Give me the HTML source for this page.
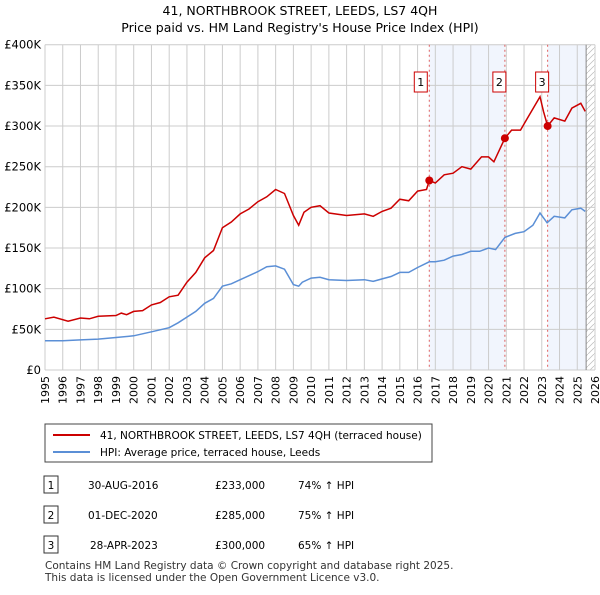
<!DOCTYPE html>
<html><head><meta charset="utf-8"><style>
body{margin:0;background:#fff;font-family:"Liberation Sans","DejaVu Sans",sans-serif;}
svg text{font-family:"DejaVu Sans","Liberation Sans",sans-serif;}
</style></head><body>
<svg id="c" width="600" height="590" xmlns="http://www.w3.org/2000/svg">
<text x="300" y="15" text-anchor="middle" font-size="12.5">41, NORTHBROOK STREET, LEEDS, LS7 4QH</text>
<text x="300" y="32" text-anchor="middle" font-size="12.5">Price paid vs. HM Land Registry's House Price Index (HPI)</text>
<defs><pattern id="h" width="6" height="6" patternUnits="userSpaceOnUse"><path d="M0 6L6 0" stroke="#bbb" stroke-width="0.7"/></pattern></defs>
<g id="plot"></g>
<g>
<rect x="45" y="424" width="387" height="38" fill="#fff" stroke="#444"/>
<line x1="53" y1="435" x2="90" y2="435" stroke="#cc0000" stroke-width="2"/>
<text x="100" y="439" font-size="10.5">41, NORTHBROOK STREET, LEEDS, LS7 4QH (terraced house)</text>
<line x1="53" y1="452" x2="90" y2="452" stroke="#5b8fd6" stroke-width="2"/>
<text x="100" y="456" font-size="10.5">HPI: Average price, terraced house, Leeds</text>
</g>
<g font-size="10.5">
<rect x="44" y="476" width="14" height="17" fill="#fff" stroke="#333"/><text x="51" y="489" text-anchor="middle">1</text>
<text x="88" y="489">30-AUG-2016</text><text x="215" y="489">£233,000</text><text x="298" y="489">74% ↑ HPI</text>
<rect x="44" y="506" width="14" height="17" fill="#fff" stroke="#333"/><text x="51" y="519" text-anchor="middle">2</text>
<text x="88" y="519">01-DEC-2020</text><text x="215" y="519">£285,000</text><text x="298" y="519">75% ↑ HPI</text>
<rect x="44" y="536" width="14" height="17" fill="#fff" stroke="#333"/><text x="51" y="549" text-anchor="middle">3</text>
<text x="90" y="549">28-APR-2023</text><text x="215" y="549">£300,000</text><text x="298" y="549">65% ↑ HPI</text>
</g>
<text x="45" y="569" font-size="10.5" fill="#333">Contains HM Land Registry data © Crown copyright and database right 2025.</text>
<text x="45" y="581" font-size="10.5" fill="#333">This data is licensed under the Open Government Licence v3.0.</text>
</svg>
<script>
const yTicks=[0,50000,100000,150000,200000,250000,300000,350000,400000];
const yLabels=["£0","£50K","£100K","£150K","£200K","£250K","£300K","£350K","£400K"];
const xYears=[1995,1996,1997,1998,1999,2000,2001,2002,2003,2004,2005,2006,2007,2008,2009,2010,2011,2012,2013,2014,2015,2016,2017,2018,2019,2020,2021,2022,2023,2024,2025,2026];
const hpiT=[1995,1996,1997,1998,1999,2000,2001,2002,2002.5,2003,2003.5,2004,2004.5,2005,2005.5,2006,2006.5,2007,2007.5,2008,2008.5,2009,2009.3,2009.5,2010,2010.5,2011,2012,2013,2013.5,2014,2014.5,2015,2015.5,2016,2016.66,2017,2017.5,2018,2018.5,2019,2019.5,2020,2020.4,2020.92,2021.5,2022,2022.5,2022.9,2023.3,2023.7,2024.3,2024.7,2025.2,2025.45];
const hpiV=[36000,36000,37000,38000,40000,42000,47000,52000,58000,65000,72000,82000,88000,103000,106000,111000,116000,121000,127000,128000,124000,105000,103000,108000,113000,114000,111000,110000,111000,109000,112000,115000,120000,120000,126000,133000,133000,135000,140000,142000,146000,146000,150000,148000,163000,168000,170000,178000,193000,181000,189000,187000,197000,199000,195000];
const priceT=[1995,1995.5,1996.3,1997,1997.5,1998,1999,1999.3,1999.6,2000,2000.5,2001,2001.5,2002,2002.5,2003,2003.5,2004,2004.5,2005,2005.5,2006,2006.5,2007,2007.5,2008,2008.5,2009,2009.3,2009.6,2010,2010.5,2011,2012,2013,2013.5,2014,2014.5,2015,2015.5,2016,2016.5,2016.66,2017,2017.5,2018,2018.5,2019,2019.6,2020,2020.3,2020.92,2021.3,2021.8,2022.2,2022.9,2023.1,2023.33,2023.7,2024.3,2024.7,2025.2,2025.45];
const priceV=[63000,65000,60000,64000,63000,66000,67000,70000,68000,72000,73000,80000,83000,90000,92000,108000,120000,138000,147000,175000,182000,192000,198000,207000,213000,222000,217000,190000,178000,194000,200000,202000,193000,190000,192000,189000,195000,199000,210000,208000,220000,222000,233000,230000,240000,242000,250000,247000,262000,262000,256000,285000,295000,295000,310000,336000,318000,300000,310000,306000,322000,328000,318000];
const saleT=[2016.66,2020.92,2023.33];
const saleV=[233000,285000,300000];
const saleLabels=["1","2","3"];
const X0=45,X1=595,Y0=370,Y1=44.7;
const x=t=>X0+(t-1995)/31*(X1-X0);
const y=v=>Y0-v/400000*(Y0-Y1);
const NS="http://www.w3.org/2000/svg";
const g=document.getElementById('plot');
function mk(tag,at){const e=document.createElementNS(NS,tag);for(const k in at)e.setAttribute(k,at[k]);g.appendChild(e);return e;}
// shading
let e=mk('rect',{x:x(saleT[0]),y:Y1,width:x(saleT[1])-x(saleT[0]),height:Y0-Y1,fill:'#eef3fc',opacity:0.8});


e=mk('rect',{x:x(saleT[2]),y:Y1,width:x(2025.5)-x(saleT[2]),height:Y0-Y1,fill:'#eef3fc',opacity:0.8});


e=mk('rect',{x:x(2025.5),y:Y1,width:X1-x(2025.5),height:Y0-Y1,fill:'url(#h)'});


xYears.forEach(t=>{const l=mk('line',{x1:x(t),x2:x(t),y1:Y1,y2:Y0,stroke:'#ccc'});


const tx=mk('text',{x:0,y:0,'font-size':11,'text-anchor':'end',transform:`translate(${x(t)+4},${Y0+6}) rotate(-90)`});tx.textContent=t;

});
yTicks.forEach((v,i)=>{const l=mk('line',{x1:X0,x2:X1,y1:y(v),y2:y(v),stroke:'#ccc'});


const tx=mk('text',{x:X0-4,y:y(v)+4,'font-size':11.5,'text-anchor':'end'});tx.textContent=yLabels[i];

});
e=mk('line',{x1:x(2025.5),x2:x(2025.5),y1:Y1,y2:Y0,stroke:'#888'});


saleT.forEach((t,i)=>{const l=mk('line',{x1:x(t),x2:x(t),y1:Y1,y2:Y0,stroke:'#e06060','stroke-dasharray':'2,3'});


const bx=x(t)-6-(i==0?3:0);
const r=mk('rect',{x:bx-6,y:72,width:13,height:20,fill:'#fff',stroke:'#cc0000'});


const tx=mk('text',{x:bx+0.5,y:86,'font-size':11,'text-anchor':'middle'});tx.textContent=saleLabels[i];

});
const path=(T,V)=>T.map((t,i)=>(i?'L':'M')+x(t).toFixed(1)+' '+y(V[i]).toFixed(1)).join(' ');
e=mk('path',{d:path(hpiT,hpiV),fill:'none',stroke:'#5b8fd6','stroke-width':1.5});


e=mk('path',{d:path(priceT,priceV),fill:'none',stroke:'#cc0000','stroke-width':1.5});


saleT.forEach((t,i)=>{const c=mk('circle',{cx:x(t),cy:y(saleV[i]),r:4,fill:'#cc0000'});

});
</script>
</body></html>
